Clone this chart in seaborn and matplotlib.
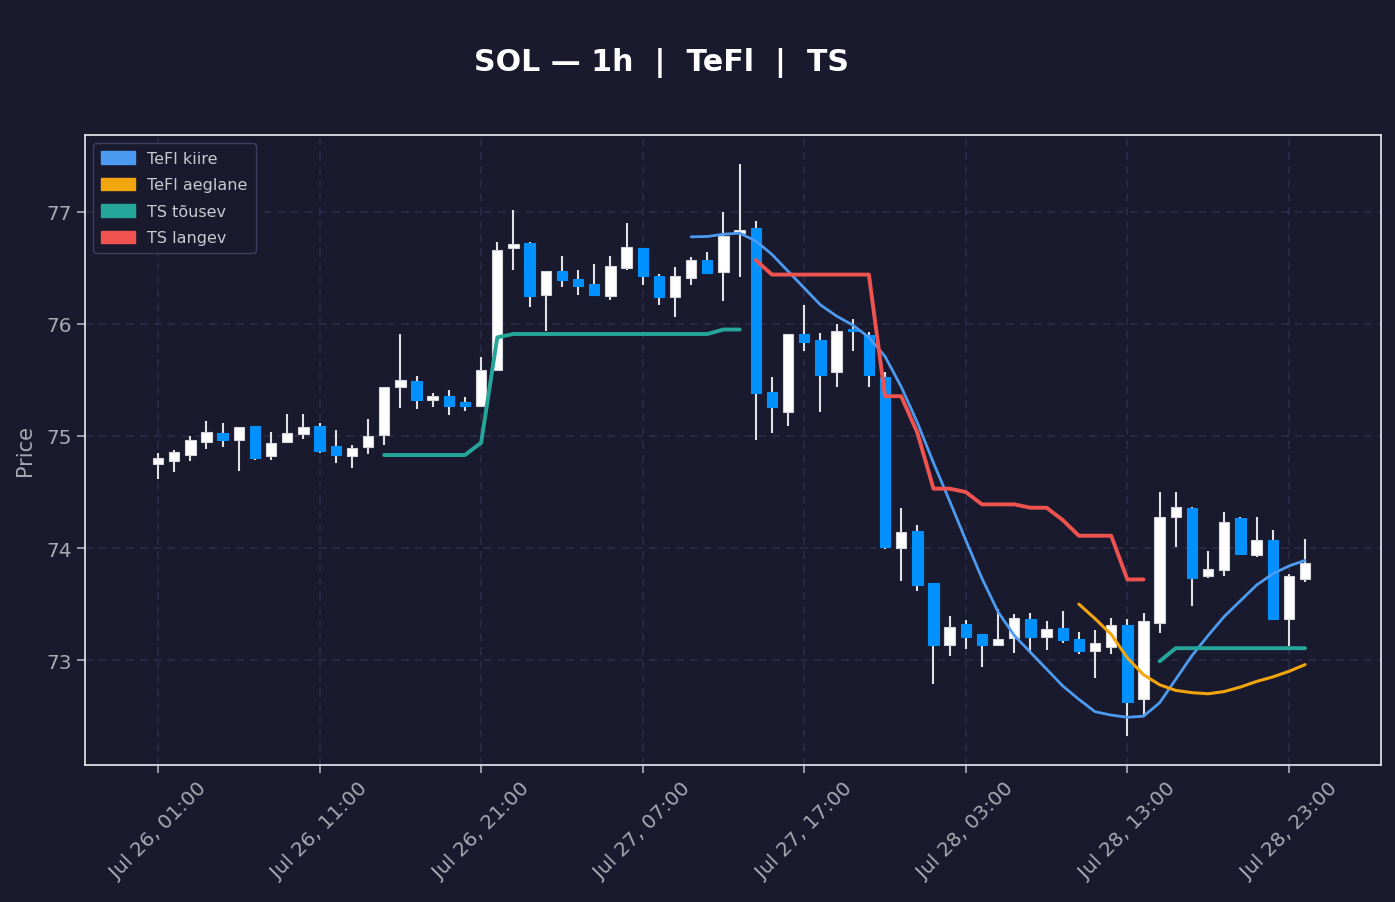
import numpy as np
import pandas as pd
import matplotlib
matplotlib.use("Agg")
import matplotlib.pyplot as plt
import matplotlib.dates as mdates
from matplotlib.patches import Patch
import seaborn as sns

# ---------------- data ----------------
start_time = "2024-07-26 01:00"
n_candles = 72

opens = [74.75, 74.78, 74.83, 74.95, 75.03, 74.96, 75.09, 74.82, 74.95, 75.02,
         75.09, 74.91, 74.82, 74.90, 75.01, 75.44, 75.49, 75.325, 75.355, 75.30,
         75.27, 75.59, 76.675, 76.72, 76.26, 76.47, 76.40, 76.355, 76.245, 76.50,
         76.675, 76.43, 76.24, 76.41, 76.57, 76.46, 76.81, 76.855, 75.39, 75.21,
         75.91, 75.855, 75.57, 75.955, 75.905, 75.53, 74.00, 74.15, 73.685, 73.135,
         73.32, 73.23, 73.135, 73.195, 73.37, 73.21, 73.29, 73.185, 73.085, 73.12,
         73.31, 72.65, 73.33, 74.275, 74.36, 73.755, 73.805, 74.265, 73.94, 74.07,
         73.365, 73.72]
highs = [74.85, 74.875, 75.00, 75.13, 75.12, 75.08, 75.09, 75.04, 75.20, 75.20,
         75.12, 75.05, 74.92, 75.15, 75.44, 75.91, 75.535, 75.385, 75.41, 75.35,
         75.705, 76.735, 77.02, 76.735, 76.47, 76.61, 76.485, 76.535, 76.61, 76.90,
         76.68, 76.445, 76.505, 76.595, 76.645, 77.00, 77.43, 76.92, 75.525, 75.91,
         76.17, 75.92, 75.995, 76.045, 75.925, 75.57, 74.355, 74.205, 73.685, 73.39,
         73.355, 73.23, 73.46, 73.41, 73.42, 73.35, 73.435, 73.255, 73.27, 73.375,
         73.365, 73.42, 74.50, 74.50, 74.37, 73.97, 74.32, 74.275, 74.275, 74.16,
         73.765, 74.08]
lows = [74.62, 74.68, 74.78, 74.88, 74.905, 74.69, 74.79, 74.79, 74.94, 74.97,
        74.85, 74.76, 74.71, 74.84, 74.92, 75.25, 75.24, 75.26, 75.19, 75.225,
        75.27, 75.58, 76.485, 76.155, 75.94, 76.325, 76.26, 76.245, 76.21, 76.485,
        76.35, 76.17, 76.065, 76.35, 76.445, 76.20, 76.42, 74.965, 75.025, 75.09,
        75.76, 75.21, 75.44, 75.755, 75.44, 73.99, 73.71, 73.62, 72.79, 73.04,
        73.10, 72.94, 73.135, 73.06, 73.06, 73.09, 73.155, 73.055, 72.84, 73.055,
        72.32, 72.49, 73.24, 74.01, 73.485, 73.73, 73.755, 73.94, 73.92, 73.365,
        73.13, 73.70]
closes = [74.80, 74.855, 74.96, 75.04, 74.96, 75.08, 74.80, 74.94, 75.03, 75.08,
          74.87, 74.83, 74.89, 75.00, 75.44, 75.50, 75.32, 75.355, 75.265, 75.27,
          75.59, 76.66, 76.715, 76.25, 76.47, 76.39, 76.34, 76.26, 76.515, 76.685,
          76.425, 76.24, 76.43, 76.57, 76.455, 76.78, 76.84, 75.38, 75.26, 75.91,
          75.84, 75.54, 75.94, 75.935, 75.545, 74.01, 74.14, 73.67, 73.135, 73.30,
          73.21, 73.135, 73.19, 73.38, 73.21, 73.28, 73.18, 73.085, 73.15, 73.31,
          72.63, 73.345, 74.275, 74.37, 73.73, 73.81, 74.23, 73.945, 74.07, 73.365,
          73.755, 73.87]

nan = np.nan
# TeFl kiire (fast), starts at candle 33
tefl_fast = [nan] * 33 + [
    76.777, 76.78, 76.80, 76.81, 76.74, 76.62, 76.47, 76.32, 76.17, 76.07,
    75.99, 75.88, 75.71, 75.44, 75.12, 74.76, 74.42, 74.07, 73.73, 73.43,
    73.22, 73.07, 72.92, 72.77, 72.65, 72.54, 72.51, 72.49, 72.50, 72.62,
    72.83, 73.04, 73.22, 73.39, 73.53, 73.67, 73.77, 73.84, 73.89]
# TeFl aeglane (slow), starts at candle 57
tefl_slow = [nan] * 57 + [
    73.50, 73.37, 73.23, 73.02, 72.87, 72.78, 72.73, 72.71, 72.70, 72.72,
    72.76, 72.81, 72.85, 72.90, 72.96]
# TS tõusev (rising stop)
ts_up = [nan] * 14 + [74.83] * 6 + [74.94, 75.88] + [75.91] * 13 + [75.95, 75.95] \
        + [nan] * 25 + [72.99] + [73.107] * 9
# TS langev (falling stop)
ts_down = [nan] * 37 + [76.57] + [76.44] * 7 + [75.355, 75.355, 75.03, 74.53, 74.53,
                                              74.50, 74.39, 74.39, 74.39, 74.36, 74.36,
                                              74.25, 74.11, 74.11, 74.11, 73.72, 73.72] \
          + [nan] * 10

series_names = ["TeFl kiire", "TeFl aeglane", "TS tõusev", "TS langev"]
series_values = [tefl_fast, tefl_slow, ts_up, ts_down]
series_colors = ["#4d9bf0", "#f2a50c", "#26a69a", "#ef5350"]
series_widths = [2.0, 2.2, 2.8, 2.8]

title_text = "SOL — 1h  |  TeFl  |  TS"
y_label = "Price"

# ---------------- styling ----------------
BG = "#1a1a2e"
UP = "#ffffff"
DOWN = "#0091ff"
WICK = "#e2e2e6"
GRID = "#2d2d4d"
TXT = "#a9a9b3"

sns.set_theme(style="dark", rc={
    "axes.facecolor": BG,
    "figure.facecolor": BG,
    "axes.edgecolor": "#dcdce2",
    "axes.labelcolor": TXT,
    "xtick.color": TXT,
    "ytick.color": TXT,
    "text.color": TXT,
})
plt.rcParams["font.family"] = ["DejaVu Sans"]

times = pd.date_range(start_time, periods=n_candles, freq="h")
df = pd.DataFrame({"time": times, "open": opens, "high": highs,
                   "low": lows, "close": closes})
df["x"] = mdates.date2num(df["time"])
for name, vals in zip(series_names, series_values):
    df[name] = vals

fig = plt.figure(figsize=(13.95, 9.03), dpi=100)
ax = fig.add_axes([85 / 1395, 1 - 766 / 903, (1381 - 85) / 1395, (766 - 136) / 903])

hour = 1 / 24.0
up_mask = df["close"] >= df["open"]
body_bottom = np.minimum(df["open"], df["close"])
body_height = np.abs(df["close"] - df["open"])

# wicks
ax.vlines(df["x"], df["low"], df["high"], color=WICK, linewidth=1.5, zorder=2)
# bodies
ax.bar(df["x"][up_mask], body_height[up_mask], bottom=body_bottom[up_mask],
       width=0.64 * hour, color=UP, edgecolor="#d4d4da", linewidth=0.8, zorder=3)
ax.bar(df["x"][~up_mask], body_height[~up_mask], bottom=body_bottom[~up_mask],
       width=0.64 * hour, color=DOWN, edgecolor=DOWN, linewidth=0.8, zorder=3)

# indicator lines (each contiguous segment separately)
for name, col, lw in zip(series_names, series_colors, series_widths):
    valid = df[name].notna()
    seg_id = (valid != valid.shift()).cumsum()
    for _, seg in df[valid].groupby(seg_id[valid]):
        sns.lineplot(data=seg, x="x", y=name, ax=ax, color=col, linewidth=lw,
                     zorder=4, legend=False)

# axes limits
x0 = df["x"].iloc[0]
ax.set_xlim(x0 - 4.52 * hour, x0 + 75.7 * hour)
lo, hi = min(lows), max(highs)
pad = (hi - lo) * 0.05
ax.set_ylim(lo - pad, hi + pad)

ax.xaxis.set_major_locator(matplotlib.ticker.FixedLocator(df["x"].iloc[::10].values))
ax.xaxis.set_major_formatter(mdates.DateFormatter("%b %d, %H:%M"))
ax.set_yticks([73, 74, 75, 76, 77])

ax.grid(True, linestyle=(0, (5, 4)), color=GRID, linewidth=1.1)
ax.set_axisbelow(True)
for s in ax.spines.values():
    s.set_color("#dcdce2")
    s.set_linewidth(1.3)
    s.set_visible(True)

ax.tick_params(axis="both", which="major", length=6, width=1.2,
               color="#b0b0b8", labelsize=14.5, labelcolor=TXT, bottom=True, left=True)
plt.setp(ax.get_xticklabels(), rotation=45, ha="center")
ax.set_xlabel("")
ax.set_ylabel(y_label, fontsize=15, color=TXT, labelpad=8)

handles = [Patch(facecolor=c, edgecolor=c, label=n)
           for n, c in zip(series_names, series_colors)]
leg = ax.legend(handles=handles, loc="upper left", fontsize=11.5, frameon=True,
                facecolor=BG, edgecolor="#3c3c60", labelcolor="#c8c8d0",
                handlelength=2.1, handleheight=0.85, labelspacing=0.72,
                borderpad=0.5, framealpha=1.0)

fig.text(661 / 1395, 1 - 63 / 903, title_text, ha="center", va="center",
         fontsize=21.6, fontweight="bold", color="white")

fig.savefig("out.png", dpi=100, facecolor=BG)
